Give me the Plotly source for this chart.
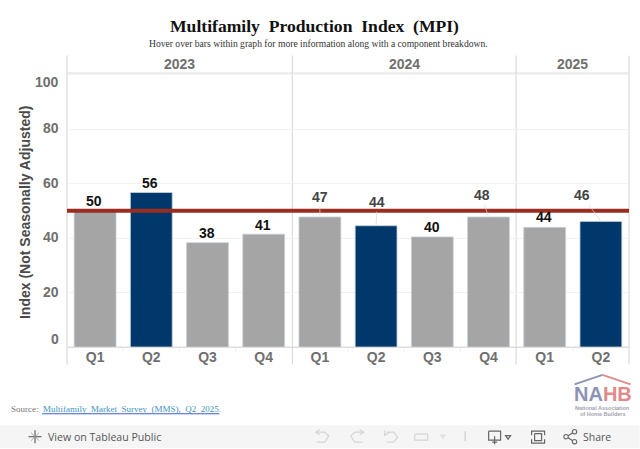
import plotly.graph_objects as go

W, H = 640, 449
L, R, T, B = 67.0, 629.5, 72.5, 347.5

years = ["2023", "2023", "2023", "2023", "2024", "2024", "2024", "2024", "2025", "2025"]
quarters = ["Q1", "Q2", "Q3", "Q4", "Q1", "Q2", "Q3", "Q4", "Q1", "Q2"]
values = [49.8, 56.7, 38.3, 41.4, 47.7, 44.5, 40.4, 47.7, 43.9, 46.1]
labels = ["50", "56", "38", "41", "47", "44", "40", "48", "44", "46"]
y_ticks = [0, 20, 40, 60, 80, 100]
reference = 50
year_labels = ["2023", "2024", "2025"]

GREY, NAVY, RED = "#a5a5a5", "#00386b", "#9a2c20"
TICK = "#6f6f6f"
SANS = "Liberation Sans, Arial, sans-serif"
SERIF = "Liberation Serif, Times New Roman, serif"

cats = [f"{y} {q}" for y, q in zip(years, quarters)]
colors = [NAVY if q == "Q2" else GREY for q in quarters]


def px(x):
    return (x - L) / (R - L)


def py(y):
    return (B - y) / (B - T)


def line(x0, y0, x1, y1, color, width=1, layer="below"):
    return dict(type="line", xref="paper", yref="paper", x0=px(x0), x1=px(x1), y0=py(y0), y1=py(y1),
                line=dict(color=color, width=width), layer=layer)


def path(pts, color, width=1.2, close=False):
    d = "M" + " L".join(f"{px(a):.5f},{py(b):.5f}" for a, b in pts) + (" Z" if close else "")
    return dict(type="path", xref="paper", yref="paper", path=d, line=dict(color=color, width=width), layer="above")


def text(x, y, s, size, color=TICK, bold=False, family=SANS, anchor="center"):
    return dict(xref="paper", yref="paper", x=px(x), y=py(y), text=f"<b>{s}</b>" if bold else s, showarrow=False,
                xanchor=anchor, yanchor="middle", font=dict(size=size, color=color, family=family))


shapes, ann = [], []

# Toolbar background
shapes.append(dict(type="rect", xref="paper", yref="paper", x0=px(0), x1=px(640), y0=py(449), y1=py(426),
                   fillcolor="#f5f5f5", line_width=0, layer="below"))

# Frame, header line, dividers
shapes.append(line(67, 55, 67, 365, "#e0e0e0", 1.5))
shapes.append(line(67, 72.5, 629.5, 72.5, "#dddddd", 1.2))
shapes.append(line(67, 347.7, 629.5, 347.7, "#dddddd", 1.5))
for xp in (292.5, 516.5, 629.5):
    shapes.append(line(xp, 55, xp, 365, "#d4d4d4", 1))
for i in range(1, 10):
    if i not in (4, 8):
        xp = L + i * (R - L) / 10
        shapes.append(line(xp, 348, xp, 352, "#eeeeee", 1))

# Reference line
shapes.append(dict(type="line", xref="paper", yref="y", x0=0, x1=1, y0=reference, y1=reference,
                   line=dict(color=RED, width=4), layer="above"))

# Year headers
for x, s in zip((179.5, 404.5, 573), year_labels):
    ann.append(text(x, 63, s, 14, bold=True))

# Y tick labels
tick_shift = {0: 8, 100: -7}
for t in y_ticks:
    ann.append(dict(xref="paper", yref="y", x=px(60.5), y=t, text=f"<b>{t}</b>", showarrow=False, xanchor="right",
                    yanchor="middle", yshift=tick_shift.get(t, 1), font=dict(size=14, color=TICK, family=SANS)))

# Axis title
ann.append(dict(xref="paper", yref="paper", x=px(25), y=py(213), text="<b>Index (Not Seasonally Adjusted)</b>",
                textangle=-90, showarrow=False, xanchor="center", yanchor="middle",
                font=dict(size=14, color="#4a4a4a", family=SANS)))

# Data labels
offsets = [(-1, -10), (-1, -9.5), (-1, -9.5), (-1, -9.5), (0, -20), (1, -23.5), (0, -10), (-7, -22), (-1, -10), (-19, -26)]
lab_colors = ["#111", "#111", "#111", "#111", "#444", "#444", "#111", "#444", "#111", "#444"]
for c, v, s, (dx, dy), col in zip(cats, values, labels, offsets, lab_colors):
    if dy < -15:
        ann.append(dict(x=c, y=v, xref="x", yref="y", text=f"<b>{s}</b>", axref="pixel", ayref="pixel", ax=dx, ay=dy,
                        showarrow=True, arrowhead=0, arrowwidth=0.7, arrowcolor="#d8d8d8", standoff=0,
                        font=dict(size=14, color=col, family=SANS)))
    else:
        ann.append(dict(x=c, y=v, xref="x", yref="y", text=f"<b>{s}</b>", showarrow=False, xshift=dx, yshift=-dy,
                        yanchor="middle", font=dict(size=14, color=col, family=SANS)))

# Title block
ann.append(text(315, 25.5, "<b>Multifamily  Production  Index  (MPI)</b>", 17.6, "#111111", family=SERIF))
ann.append(text(319, 42.5, "Hover over bars within graph for more information along with a component breakdown.", 9.6,
                "#333333", family=SERIF))

# Source
ann.append(text(8.5, 410, "Source:", 9, "#777777", family=SERIF, anchor="left"))
ann.append(text(40.5, 410, "Multifamily  Market  Survey  (MMS),  Q2  2025.", 9, "#3f93bd", family=SERIF, anchor="left"))
shapes.append(line(42, 414.5, 219.5, 414.5, "#3a5fd8", 1))

# NAHB logo
shapes.append(path([(603, 375.5), (631, 385)], "#e08a8c", 2))
shapes.append(path([(575, 385), (603, 375.5)], "#8d93b4", 2))
ann.append(text(603, 395, "<b>NA<span style='color:#e08a8c'>HB</span></b>", 20, "#8d93b4", anchor="center"))
ann.append(text(603, 408.5, "<b>National Association</b>", 5.5, "#a2a2ae"))
ann.append(text(603, 415, "<b>of Home Builders</b>", 5.5, "#a2a2ae"))

# Toolbar
ann.append(text(45.5, 437.5, "View on Tableau Public", 10.6, "#555555", family="Open Sans, " + SANS, anchor="left"))
ann.append(text(581.5, 437.5, "Share", 10.5, "#555555", family="Open Sans, " + SANS, anchor="left"))
shapes += [path([(35, 431), (35, 444)], "#666666"), path([(28.5, 437.5), (41.5, 437.5)], "#666666"),
           path([(31, 433.5), (39, 441.5)], "#999999", 0.8), path([(39, 433.5), (31, 441.5)], "#999999", 0.8)]
ic = "#d5d5d5"
shapes += [path([(320, 430.5), (316, 433), (320, 435.5)], ic), path([(316, 433), (325, 433), (329, 437), (325, 443), (317, 443)], ic),
           path([(360, 430.5), (364, 433), (360, 435.5)], ic), path([(364, 433), (355, 433), (351, 437), (355, 443), (363, 443)], ic),
           path([(385, 431), (385, 436), (390, 433)], ic), path([(387, 433), (394, 433), (398, 438), (394, 443), (387, 443)], ic),
           path([(415, 435), (428, 435), (428, 441), (415, 441), (415, 435)], ic),
           path([(441, 436), (445.5, 436), (443.2, 439)], ic, 1, True),
           path([(465.5, 432), (465.5, 442)], "#cccccc")]
dk = "#666666"
shapes += [path([(489, 432), (501, 432), (501, 441), (489, 441), (489, 432)], dk),
           path([(495, 437), (495, 445)], dk), path([(492.5, 443), (497.5, 443)], dk),
           path([(506, 436.5), (511, 436.5), (508.5, 440)], dk, 1.2, True),
           path([(532, 436), (532, 432), (545, 432), (545, 436)], dk), path([(532, 440), (532, 444), (545, 444), (545, 440)], dk),
           path([(535, 434.5), (542, 434.5), (542, 441.5), (535, 441.5), (535, 434.5)], dk),
           path([(574, 433), (567, 437.5), (574, 442)], dk)]
for cx, cy, r in ((575, 432.5, 2.2), (566.5, 437.5, 2.2), (575, 442.5, 2.2)):
    shapes.append(dict(type="circle", xref="paper", yref="paper", x0=px(cx - r), x1=px(cx + r), y0=py(cy - r), y1=py(cy + r),
                       fillcolor="#f5f5f5", line=dict(color=dk, width=1.1), layer="above"))

fig = go.Figure(go.Bar(x=cats, y=values, width=0.745, marker=dict(color=colors, line=dict(color="#c9d0d8", width=0.8)),
                       hoverinfo="x+y"))
fig.update_layout(
    width=W, height=H, autosize=False, showlegend=False, plot_bgcolor="white", paper_bgcolor="white",
    margin=dict(l=L, r=W - R, t=T, b=H - B, pad=0),
    font=dict(family=SANS),
    shapes=shapes, annotations=ann,
    xaxis=dict(type="category", categoryorder="array", categoryarray=cats, range=[-0.5, 9.5], tickmode="array",
               tickvals=cats, ticktext=quarters, showgrid=False, zeroline=False, showline=False, ticks="",
               ticklen=0, tickfont=dict(size=14, color=TICK, family=SANS, weight="bold"), automargin=False),
    yaxis=dict(range=[0, 100.55], tickmode="array", tickvals=y_ticks, showticklabels=False, gridcolor="#f2f2f2",
               gridwidth=1, zeroline=False, showline=False, ticks="", automargin=False),
)
fig.write_html("out.html", config=dict(displayModeBar=False),
               post_script="document.body.style.margin='0';document.body.style.overflow='hidden';")
